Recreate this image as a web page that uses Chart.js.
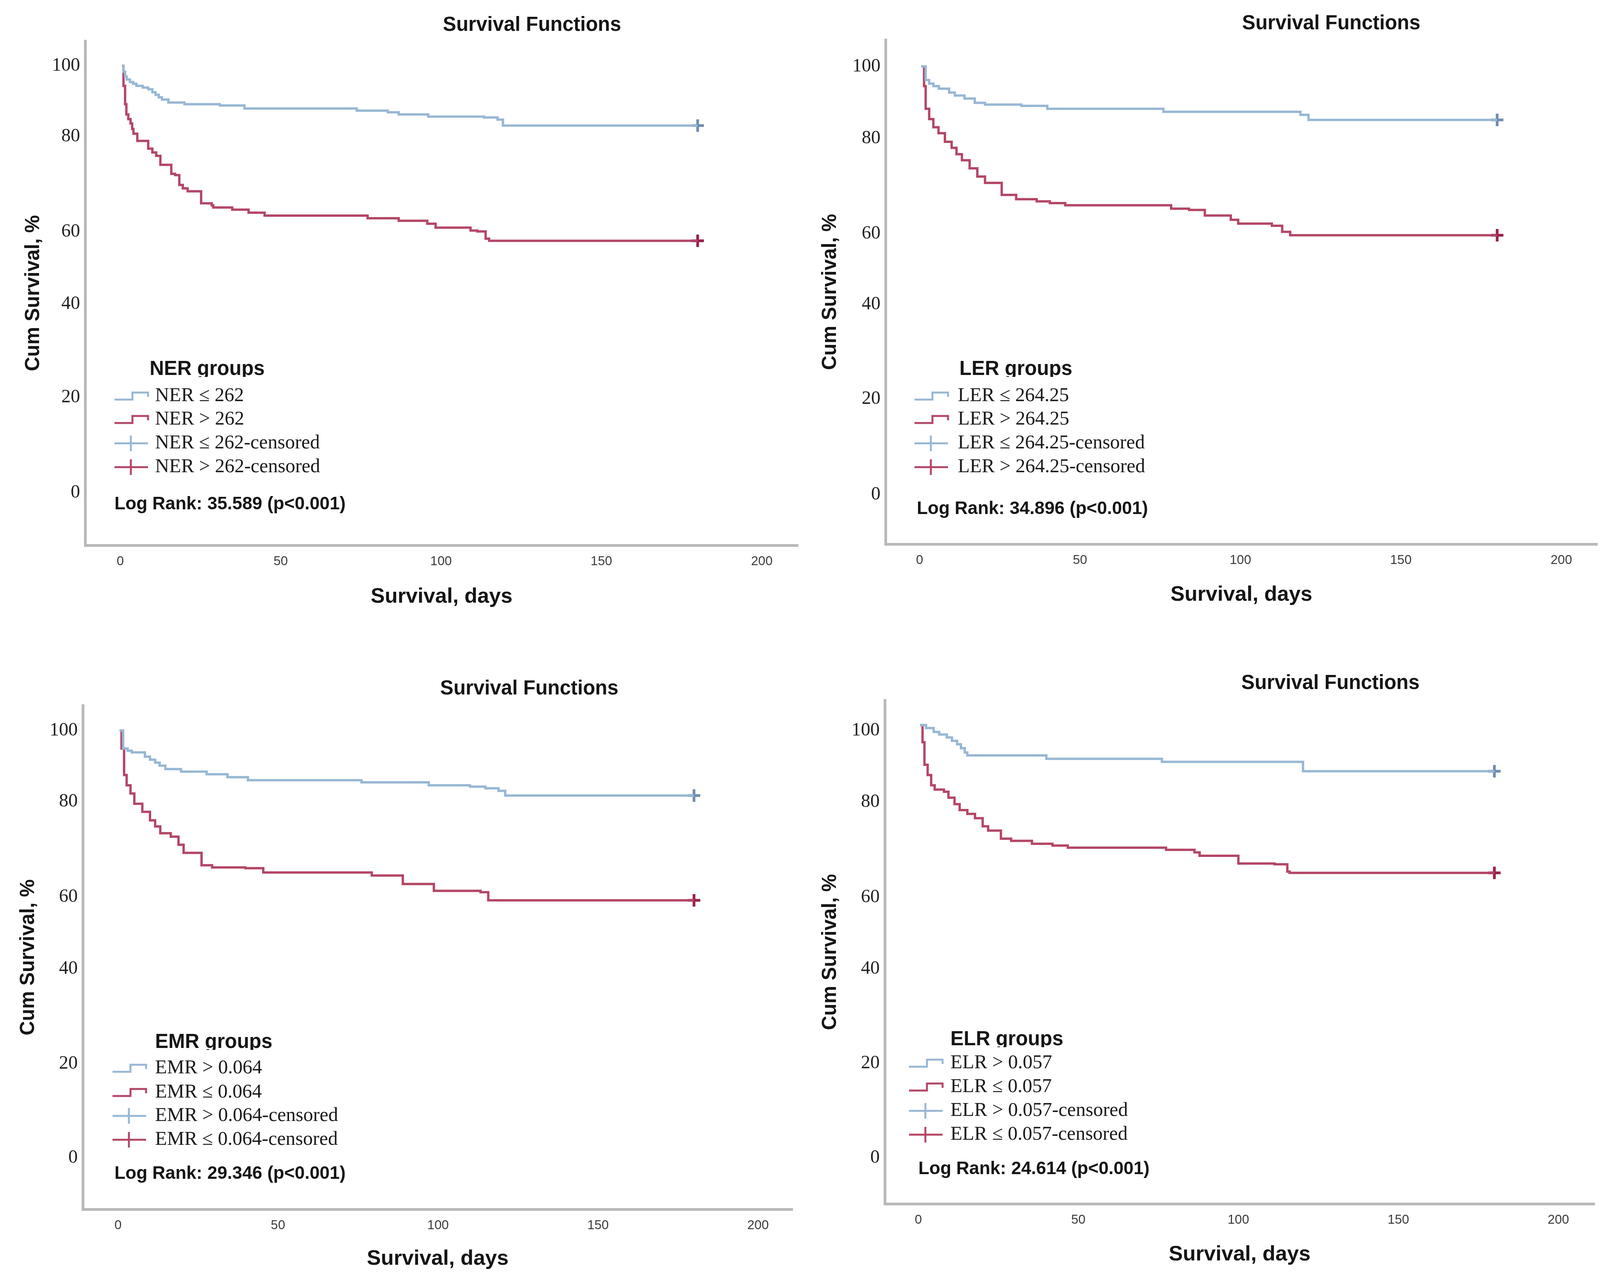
<!DOCTYPE html>
<html>
<head>
<meta charset="utf-8">
<script src="https://cdn.jsdelivr.net/npm/chart.js@4.4.1/dist/chart.umd.min.js"></script>
<style>
  html, body { margin: 0; padding: 0; background: #fff; }
  body { width: 4146px; height: 3295px; position: relative; overflow: hidden; }
  canvas { position: absolute; }
</style>
</head>
<body>
<canvas id="ner"></canvas>
<canvas id="ler"></canvas>
<canvas id="emr"></canvas>
<canvas id="elr"></canvas>
<script>
// shared axis labels
const yTickLabels = ['0', '20', '40', '60', '80', '100'];
const xTickValues = [0, 50, 100, 150, 200];
const censorDay = 180;

// NER groups (the y labels in the source sit unevenly, so each panel keeps its own tick spots)
const nerTicks = [0, 22.3, 44.2, 61.1, 83.4, 100];
const nerLowDays = [0.5, 1, 1.5, 2, 3, 4, 5, 7, 8.7, 10, 11, 12, 13, 15, 20, 31, 38.7, 73.7, 83.4, 86.8, 96, 113.4, 117.6, 119.3, 180];
const nerLowSurv = [100, 98.6, 97.5, 96.8, 96.2, 95.8, 95.3, 94.9, 94.5, 93.8, 93.2, 92.6, 92.1, 91.4, 91.0, 90.7, 90.0, 89.5, 89.1, 88.6, 88.1, 87.9, 87.4, 86.0, 86.0];
const nerHighDays = [0.5, 1, 1.5, 1.9, 2.5, 3.2, 3.7, 4.1, 5.3, 8.7, 10, 11.2, 12.5, 15.9, 17.1, 18.4, 19.5, 21, 25.2, 28.5, 29, 34.9, 40, 45, 77.1, 86.8, 95.7, 98.3, 109.2, 111.3, 113.9, 115, 180];
const nerHighSurv = [100, 95.3, 91.0, 88.6, 87.5, 86.5, 85.2, 84.1, 82.4, 80.6, 79.7, 78.9, 76.8, 74.7, 74.4, 72.1, 71.3, 70.6, 67.8, 67.3, 66.8, 66.3, 65.6, 64.9, 64.3, 63.7, 63.0, 62.1, 61.4, 61.2, 59.5, 59.0, 59.0];

// LER groups
const lerTicks = [0, 22.4, 44.4, 60.9, 83.2, 100];
const lerLowDays = [0.5, 1.9, 3, 4.3, 6, 9.2, 11, 14, 17.2, 20.4, 31.7, 39.8, 76, 118.7, 121.2, 180];
const lerLowSurv = [100, 96.8, 96.0, 95.4, 94.8, 93.9, 93.2, 92.5, 91.5, 91.1, 90.8, 90.1, 89.4, 88.7, 87.5, 87.5];
const lerHighDays = [0.5, 1.4, 1.9, 3, 4.3, 5.9, 7.9, 10, 11.5, 13.2, 15.6, 18, 20.4, 25.6, 30.1, 36.5, 40.6, 45.4, 78.4, 84, 88.9, 97, 99.3, 109.8, 113, 115.5, 180];
const lerHighSurv = [100, 95.4, 90.1, 87.7, 85.8, 84.4, 82.4, 81.0, 79.5, 78.1, 76.2, 74.3, 72.8, 70.0, 69.0, 68.5, 68.1, 67.6, 66.8, 66.5, 65.2, 64.2, 63.3, 62.8, 61.4, 60.6, 60.6];

// EMR groups
const emrTicks = [0, 22.1, 44.3, 61.1, 83.4, 100];
const emrHighDays = [0.5, 1.6, 3, 4.3, 8.4, 10, 11.6, 13, 14.8, 19.7, 27.7, 34.2, 40.6, 76.1, 97.1, 110, 114.8, 118.9, 121, 180];
const emrHighSurv = [100, 95.8, 95.3, 94.9, 93.9, 93.2, 92.5, 91.8, 91.0, 90.4, 89.8, 89.1, 88.4, 87.9, 87.2, 86.9, 86.5, 85.9, 84.8, 84.8];
const emrLowDays = [0.5, 1.1, 1.9, 2.7, 3.9, 5.1, 7.6, 10, 11.6, 13.2, 16.5, 18.9, 20.5, 26.1, 29.4, 39.8, 45.4, 79.3, 89, 98.7, 113.3, 115.7, 180];
const emrLowSurv = [100, 95.8, 89.6, 87.2, 85.3, 82.9, 81.0, 79.0, 77.6, 76.0, 75.2, 73.3, 71.4, 68.5, 68.0, 67.8, 66.8, 66.1, 64.1, 62.5, 62.2, 60.3, 60.3];

// ELR groups
const elrTicks = [-1.3, 20.8, 42.9, 59.7, 82.0, 98.7];
const elrHighDays = [0.5, 2.4, 4.8, 6.5, 8.9, 10.5, 12.1, 13.3, 14.5, 15.3, 40, 76.1, 120.2, 180];
const elrHighSurv = [100, 99.3, 98.4, 97.8, 97.1, 96.3, 95.5, 94.6, 93.6, 92.9, 92.1, 91.4, 89.2, 89.2];
const elrLowDays = [0.5, 1.3, 1.9, 2.9, 4.0, 5.1, 8.0, 9.4, 11.3, 12.9, 15.3, 17.7, 20.1, 21.8, 25.8, 29, 35.5, 41.9, 46.7, 77.4, 86.3, 87.9, 100, 111.3, 115.3, 116, 180];
const elrLowSurv = [100, 96.0, 90.7, 88.3, 85.9, 84.9, 84.4, 83.0, 81.5, 80.1, 79.2, 78.2, 76.3, 75.3, 73.4, 72.9, 72.2, 71.8, 71.3, 70.8, 70.2, 69.4, 67.6, 67.4, 65.7, 65.4, 65.4];

const SANS = '"Liberation Sans", Arial, sans-serif';
const SERIF = '"Liberation Serif", "Times New Roman", serif';
const BLUE = 'rgb(152,183,212)';
const RED = 'rgb(180,70,102)';
const BLUE_MARK = 'rgb(112,142,175)';
const RED_MARK = 'rgb(152,34,74)';
const AXIS = '#b9b9b9';

function toPoints(days, surv) {
    return days.map((d, i) => ({ x: d, y: surv[i] }));
}

function stepSet(days, surv, color) {
    return {
        data: toPoints(days, surv),
        borderColor: color,
        borderWidth: 6,
        stepped: true,
        pointRadius: 0,
        fill: false
    };
}

function censorSet(days, surv, color) {
    return {
        data: [{ x: censorDay, y: surv[surv.length - 1] }],
        showLine: false,
        pointStyle: 'cross',
        pointRadius: 16,
        pointBorderWidth: 7,
        pointBorderColor: color,
        borderColor: color
    };
}

// draws the title, in-plot legend and log rank note
const panelText = {
    id: 'panelText',
    afterDraw(chart, args, o) {
        const ctx = chart.ctx;
        ctx.save();
        ctx.fillStyle = '#151515';
        ctx.textBaseline = 'middle';
        ctx.textAlign = 'center';
        ctx.font = 'bold 51px ' + SANS;
        ctx.fillText('Survival Functions', o.titleX, o.titleY);

        ctx.textAlign = 'left';
        // legend heading, cut at the baseline like in the source
        ctx.save();
        ctx.beginPath();
        ctx.rect(o.headX - 10, o.headY - 45, 700, 64);
        ctx.clip();
        ctx.fillText(o.heading, o.headX, o.headY);
        ctx.restore();

        const colors = [BLUE, RED, BLUE, RED];
        ctx.font = '50px ' + SERIF;
        o.labels.forEach((label, i) => {
            const y = o.itemY[i];
            const x = o.iconX;
            ctx.strokeStyle = colors[i];
            ctx.lineWidth = 5;
            ctx.beginPath();
            if (i < 2) {
                ctx.moveTo(x, y + 9);
                ctx.lineTo(x + 46, y + 9);
                ctx.lineTo(x + 46, y - 9);
                ctx.lineTo(x + 86, y - 9);
                ctx.lineTo(x + 86, y + 2);
            } else {
                ctx.moveTo(x, y);
                ctx.lineTo(x + 86, y);
                ctx.moveTo(x + 42, y - 20);
                ctx.lineTo(x + 42, y + 20);
            }
            ctx.stroke();
            ctx.fillStyle = '#1a1a1a';
            ctx.fillText(label, o.textX, y);
        });

        ctx.font = 'bold 46px ' + SANS;
        ctx.fillStyle = '#151515';
        ctx.fillText(o.logRank, o.rankX, o.rankY);
        ctx.restore();
    }
};

function makePanel(id, p) {
    const cv = document.getElementById(id);
    cv.width = p.w;
    cv.height = p.h;
    cv.style.left = p.left + 'px';
    cv.style.top = p.top + 'px';
    return new Chart(cv, {
        type: 'line',
        data: {
            datasets: [
                stepSet(p.blueDays, p.blueSurv, BLUE),
                stepSet(p.redDays, p.redSurv, RED),
                censorSet(p.blueDays, p.blueSurv, BLUE_MARK),
                censorSet(p.redDays, p.redSurv, RED_MARK)
            ]
        },
        options: {
            responsive: false,
            animation: false,
            devicePixelRatio: 1,
            layout: { padding: { left: 0, top: p.area.top, right: p.w - p.area.right, bottom: 0 } },
            plugins: {
                legend: { display: false },
                tooltip: { enabled: false },
                title: { display: false },
                panelText: p.text
            },
            scales: {
                x: {
                    type: 'linear',
                    min: p.xMin,
                    max: p.xMax,
                    afterBuildTicks: s => { s.ticks = xTickValues.map(v => ({ value: v })); },
                    afterFit: s => { s.height = p.h - p.area.bottom; },
                    grid: { display: false, drawTicks: false },
                    border: { display: true, color: AXIS, width: 7 },
                    ticks: { padding: 22, autoSkip: false, maxRotation: 0, color: '#3c3c3c', font: { size: 33, family: SANS } },
                    title: {
                        display: true, text: 'Survival, days', color: '#151515',
                        font: { size: 54, weight: 'bold', family: SANS },
                        padding: { top: 0, bottom: p.xTitlePad }
                    }
                },
                y: {
                    type: 'linear',
                    min: p.yMin,
                    max: p.yMax,
                    afterBuildTicks: s => { s.ticks = p.ticks.map(v => ({ value: v })); },
                    afterFit: s => { s.width = p.area.left; },
                    grid: { display: false, drawTicks: false },
                    border: { display: true, color: AXIS, width: 7 },
                    ticks: {
                        padding: 13, autoSkip: false, color: '#222',
                        font: { size: 48, family: SERIF },
                        callback: (v, i) => yTickLabels[i]
                    },
                    title: {
                        display: true, text: 'Cum Survival, %', color: '#151515',
                        font: { size: 51, weight: 'bold', family: SANS },
                        padding: { top: p.yTitlePad, bottom: 0 }
                    }
                }
            }
        },
        plugins: [panelText]
    });
}

makePanel('ner', {
    left: 0, top: 0, w: 2073, h: 1648,
    area: { left: 218, right: 2043, top: 105, bottom: 1396 },
    xMin: -10.95, xMax: 211.3, yMin: -12.3, yMax: 105.8,
    ticks: nerTicks, xTitlePad: 87, yTitlePad: 55,
    blueDays: nerLowDays, blueSurv: nerLowSurv, redDays: nerHighDays, redSurv: nerHighSurv,
    text: {
        titleX: 1362, titleY: 65,
        heading: 'NER groups', headX: 383, headY: 946,
        labels: ['NER ≤ 262', 'NER > 262', 'NER ≤ 262-censored', 'NER > 262-censored'],
        itemY: [1014, 1074, 1135, 1196], iconX: 293, textX: 397,
        logRank: 'Log Rank: 35.589 (p<0.001)', rankX: 293, rankY: 1291
    }
});

makePanel('ler', {
    left: 2073, top: 0, w: 2073, h: 1648,
    area: { left: 194, right: 2016, top: 102, bottom: 1393 },
    xMin: -10.6, xMax: 211.2, yMin: -11.5, yMax: 106.2,
    ticks: lerTicks, xTitlePad: 92, yTitlePad: 22,
    blueDays: lerLowDays, blueSurv: lerLowSurv, redDays: lerHighDays, redSurv: lerHighSurv,
    text: {
        titleX: 1335, titleY: 61,
        heading: 'LER groups', headX: 383, headY: 946,
        labels: ['LER ≤ 264.25', 'LER > 264.25', 'LER ≤ 264.25-censored', 'LER > 264.25-censored'],
        itemY: [1014, 1074, 1135, 1196], iconX: 268, textX: 379,
        logRank: 'Log Rank: 34.896 (p<0.001)', rankX: 274, rankY: 1303
    }
});

makePanel('emr', {
    left: 0, top: 1648, w: 2073, h: 1647,
    area: { left: 212, right: 2029, top: 158, bottom: 1448 },
    xMin: -11.0, xMax: 210.8, yMin: -12.0, yMax: 105.9,
    ticks: emrTicks, xTitlePad: 39, yTitlePad: 42,
    blueDays: emrHighDays, blueSurv: emrHighSurv, redDays: emrLowDays, redSurv: emrLowSurv,
    text: {
        titleX: 1355, titleY: 116,
        heading: 'EMR groups', headX: 397, headY: 1021,
        labels: ['EMR > 0.064', 'EMR ≤ 0.064', 'EMR > 0.064-censored', 'EMR ≤ 0.064-censored'],
        itemY: [1087, 1149, 1209, 1270], iconX: 288, textX: 397,
        logRank: 'Log Rank: 29.346 (p<0.001)', rankX: 293, rankY: 1357
    }
});

makePanel('elr', {
    left: 2073, top: 1648, w: 2073, h: 1647,
    area: { left: 192, right: 2009, top: 145, bottom: 1434 },
    xMin: -10.5, xMax: 211.3, yMin: -12.1, yMax: 105.8,
    ticks: elrTicks, xTitlePad: 50, yTitlePad: 22,
    blueDays: elrHighDays, blueSurv: elrHighSurv, redDays: elrLowDays, redSurv: elrLowSurv,
    text: {
        titleX: 1333, titleY: 102,
        heading: 'ELR groups', headX: 360, headY: 1014,
        labels: ['ELR > 0.057', 'ELR ≤ 0.057', 'ELR > 0.057-censored', 'ELR ≤ 0.057-censored'],
        itemY: [1074, 1135, 1196, 1257], iconX: 254, textX: 360,
        logRank: 'Log Rank: 24.614 (p<0.001)', rankX: 278, rankY: 1345
    }
});
</script>
</body>
</html>
